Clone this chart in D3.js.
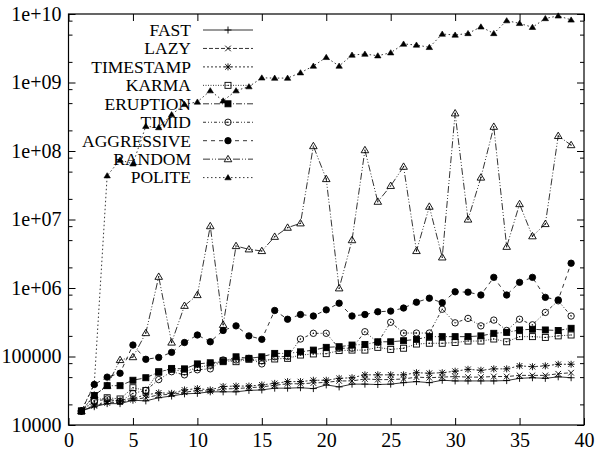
<!DOCTYPE html>
<html>
<head>
<meta charset="utf-8">
<script src="https://cdn.jsdelivr.net/npm/d3@7"></script>
<style>
  body { margin: 0; background: #fff; }
</style>
</head>
<body>
<div id="chart"></div>
<script>
const width = 595;
const height = 458;
const fontFamily = '"Liberation Serif", Tinos, "DejaVu Serif", "Times New Roman", Times, serif';

const seriesNames = ['FAST', 'LAZY', 'TIMESTAMP', 'KARMA', 'ERUPTION', 'TIMID', 'AGGRESSIVE', 'RANDOM', 'POLITE'];
const xValues = d3.range(1, 40);

const fast = [1.6e4, 1.85e4, 2.05e4, 2.05e4, 2.3e4, 2.25e4, 2.5e4, 2.65e4, 2.85e4, 2.9e4,
    3.05e4, 3.05e4, 3.05e4, 3.2e4, 3.25e4, 3.45e4, 3.45e4, 3.5e4, 3.4e4, 3.85e4,
    3.6e4, 3.95e4, 3.95e4, 3.9e4, 3.95e4, 4.15e4, 4.3e4, 4.15e4, 4.5e4, 4.4e4,
    4.4e4, 4.4e4, 4.4e4, 4.45e4, 4.8e4, 4.9e4, 4.8e4, 5.05e4, 4.9e4];
const lazy = [1.6e4, 1.9e4, 2.1e4, 2.15e4, 2.35e4, 2.5e4, 2.75e4, 2.8e4, 3.0e4, 3.2e4,
    3.1e4, 3.35e4, 3.4e4, 3.5e4, 3.6e4, 3.8e4, 4.0e4, 4.0e4, 4.1e4, 4.2e4,
    4.4e4, 4.4e4, 4.7e4, 4.6e4, 4.6e4, 4.7e4, 5.0e4, 4.9e4, 5.0e4, 5.1e4,
    5.0e4, 5.0e4, 5.1e4, 5.1e4, 5.3e4, 5.3e4, 5.3e4, 5.6e4, 5.8e4];
const timestamp = [1.6e4, 1.95e4, 2.2e4, 2.3e4, 2.45e4, 2.75e4, 2.95e4, 2.9e4, 3.25e4, 3.4e4,
    3.25e4, 3.65e4, 3.7e4, 3.7e4, 3.85e4, 4.05e4, 4.3e4, 4.3e4, 4.5e4, 4.5e4,
    4.8e4, 4.9e4, 5.4e4, 5.4e4, 5.4e4, 5.4e4, 5.8e4, 5.7e4, 5.8e4, 6.1e4,
    6.5e4, 6.3e4, 6.6e4, 6.6e4, 7.3e4, 7.1e4, 7.3e4, 7.7e4, 7.7e4];
const karma = [1.6e4, 2.3e4, 2.5e4, 2.4e4, 3.5e4, 3.2e4, 6.0e4, 6.5e4, 6.0e4, 6.9e4,
    7.5e4, 8.7e4, 8.4e4, 9.1e4, 8.7e4, 9.2e4, 9.4e4, 1.05e5, 1.09e5, 1.1e5,
    1.22e5, 1.24e5, 1.24e5, 1.36e5, 1.27e5, 1.32e5, 1.52e5, 1.56e5, 1.56e5, 1.6e5,
    1.68e5, 1.68e5, 1.8e5, 1.64e5, 1.95e5, 1.95e5, 1.9e5, 2.0e5, 2.06e5];
const eruption = [1.6e4, 2.7e4, 3.75e4, 3.75e4, 4.5e4, 4.9e4, 5.9e4, 6.7e4, 6.6e4, 7.8e4,
    8.1e4, 8.4e4, 9.9e4, 9.4e4, 9.9e4, 1.11e5, 1.11e5, 1.17e5, 1.24e5, 1.36e5,
    1.39e5, 1.47e5, 1.5e5, 1.64e5, 1.64e5, 1.7e5, 1.78e5, 1.95e5, 1.95e5, 1.95e5,
    1.95e5, 2.0e5, 2.18e5, 2.25e5, 2.44e5, 2.5e5, 2.44e5, 2.4e5, 2.58e5];
const timid = [1.6e4, 2.2e4, 2.4e4, 2.2e4, 2.9e4, 3.2e4, 4.6e4, 6.0e4, 5.4e4, 6.4e4,
    6.6e4, 8.9e4, 8.9e4, 9.4e4, 7.8e4, 9.9e4, 1.0e5, 1.8e5, 2.18e5, 2.18e5,
    1.32e5, 1.32e5, 2.3e5, 1.6e5, 3.16e5, 2.2e5, 2.2e5, 2.2e5, 4.9e5, 3.1e5,
    3.6e5, 2.8e5, 3.4e5, 2.4e5, 3.5e5, 2.9e5, 4.4e5, 6.5e5, 3.9e5];
const aggressive = [1.6e4, 3.9e4, 5.0e4, 5.7e4, 1.47e5, 9.1e4, 9.7e4, 1.15e5, 1.6e5, 2.06e5,
    1.64e5, 2.4e5, 2.8e5, 2.0e5, 1.78e5, 4.7e5, 3.5e5, 4.1e5, 3.9e5, 4.8e5,
    6.0e5, 3.9e5, 4.1e5, 4.5e5, 4.6e5, 5.1e5, 6.2e5, 7.1e5, 6.1e5, 8.8e5,
    8.7e5, 7.9e5, 1.43e6, 7.9e5, 1.21e6, 1.43e6, 7.3e5, 6.7e5, 2.3e6];
const random = [1.6e4, 2.7e4, 3.75e4, 8.9e4, 9.8e4, 2.2e5, 1.46e6, 1.6e5, 5.5e5, 7.9e5,
    8.0e6, 2.9e5, 4.1e6, 3.67e6, 3.47e6, 5.6e6, 7.6e6, 8.8e6, 1.18e8, 3.9e7,
    9.9e5, 5.0e6, 1.03e8, 1.82e7, 3.1e7, 5.9e7, 3.47e6, 1.54e7, 2.8e6, 3.55e8,
    1.0e7, 4.1e7, 2.26e8, 4.0e6, 1.68e7, 5.7e6, 8.6e6, 1.66e8, 1.22e8];
const polite = [1.6e4, 4.0e4, 4.36e7, 7.4e7, 6.5e7, 2.3e8, 2.2e8, 3.4e8, 4.8e8, 5.2e8,
    7.6e8, 5.4e8, 7.6e8, 8.7e8, 1.17e9, 1.16e9, 1.16e9, 1.39e9, 1.74e9, 2.33e9,
    1.74e9, 2.52e9, 2.6e9, 2.46e9, 2.72e9, 3.65e9, 3.53e9, 3.26e9, 5.1e9, 4.94e9,
    5.2e9, 6.5e9, 5.2e9, 8.0e9, 7.3e9, 6.4e9, 8.6e9, 9.4e9, 8.2e9];

const seriesValues = [fast, lazy, timestamp, karma, eruption, timid, aggressive, random, polite];
const markerTypes = ['plus', 'cross', 'star', 'square', 'squareFilled', 'circle', 'circleFilled', 'triangle', 'triangleFilled'];
const dashes = ['none', '4,2', '2,2', '1,1.5', '6,2,1,2', '3,2,1,2,1,2', '4,4', '7,2,1,2,1,2', '1.5,2.5'];

const xTicks = [0, 5, 10, 15, 20, 25, 30, 35, 40];
const yTicks = [1e4, 1e5, 1e6, 1e7, 1e8, 1e9, 1e10];
const yTickLabels = ['10000', '100000', '1e+06', '1e+07', '1e+08', '1e+09', '1e+10'];

const margin = {left: 68.5, right: 584, top: 14, bottom: 425};

const svg = d3.select('#chart').append('svg')
    .attr('width', width)
    .attr('height', height);

const x = d3.scaleLinear().domain([0, 40]).range([margin.left, margin.right]);
const y = d3.scaleLog().domain([1e4, 1e10]).range([margin.bottom, margin.top]);

// minor ticks at 2, 5, 8 of each decade
const minorY = [];
for (let e = 4; e < 10; e++) {
    [2, 5, 8].forEach(m => minorY.push(m * Math.pow(10, e)));
}

function styleAxis(g) {
    g.attr('font-family', fontFamily);
    g.select('.domain').remove();
    g.selectAll('line').attr('stroke', '#000').attr('stroke-width', 1);
    g.selectAll('text').attr('fill', '#000').style('font-size', '20px');
}

svg.append('g')
    .attr('transform', `translate(0,${margin.bottom})`)
    .call(d3.axisBottom(x).tickValues(xTicks).tickSize(-7).tickPadding(8))
    .call(styleAxis);

svg.append('g')
    .attr('transform', `translate(0,${margin.top})`)
    .call(d3.axisTop(x).tickValues(xTicks).tickSize(-7).tickFormat(''))
    .call(styleAxis);

svg.append('g')
    .attr('transform', `translate(${margin.left},0)`)
    .call(d3.axisLeft(y).tickValues(yTicks).tickSize(-7).tickPadding(7)
        .tickFormat((d, i) => yTickLabels[i]))
    .call(styleAxis);

svg.append('g')
    .attr('transform', `translate(${margin.left},0)`)
    .call(d3.axisLeft(y).tickValues(minorY).tickSize(-4).tickFormat(''))
    .call(styleAxis);

svg.append('g')
    .attr('transform', `translate(${margin.right},0)`)
    .call(d3.axisRight(y).tickValues(yTicks).tickSize(-7).tickFormat(''))
    .call(styleAxis);

svg.append('g')
    .attr('transform', `translate(${margin.right},0)`)
    .call(d3.axisRight(y).tickValues(minorY).tickSize(-4).tickFormat(''))
    .call(styleAxis);

svg.append('rect')
    .attr('x', margin.left)
    .attr('y', margin.top)
    .attr('width', margin.right - margin.left)
    .attr('height', margin.bottom - margin.top)
    .attr('fill', 'none')
    .attr('stroke', '#000')
    .attr('stroke-width', 1.2);

function drawMarker(g, type, cx, cy) {
    const s = 3.5;
    if (type === 'plus' || type === 'star') {
        g.append('path').attr('d', `M${cx - s},${cy}H${cx + s}M${cx},${cy - s}V${cy + s}`)
            .attr('stroke', '#000').attr('stroke-width', 0.9);
    }
    if (type === 'cross' || type === 'star') {
        const t = 2.8;
        g.append('path').attr('d', `M${cx - t},${cy - t}L${cx + t},${cy + t}M${cx - t},${cy + t}L${cx + t},${cy - t}`)
            .attr('stroke', '#000').attr('stroke-width', 0.9);
    }
    if (type === 'square' || type === 'squareFilled') {
        g.append('rect').attr('x', cx - 3).attr('y', cy - 3).attr('width', 6).attr('height', 6)
            .attr('fill', type === 'square' ? 'none' : '#000').attr('stroke', '#000').attr('stroke-width', 0.9);
    }
    if (type === 'circle' || type === 'circleFilled') {
        g.append('circle').attr('cx', cx).attr('cy', cy).attr('r', 3.2)
            .attr('fill', type === 'circle' ? 'none' : '#000').attr('stroke', '#000').attr('stroke-width', 0.9);
    }
    if (type === 'triangle') {
        g.append('path').attr('d', `M${cx},${cy - 3.8}L${cx + 3.8},${cy + 2.6}L${cx - 3.8},${cy + 2.6}Z`)
            .attr('fill', 'none').attr('stroke', '#000').attr('stroke-width', 0.9);
    }
    if (type === 'triangleFilled') {
        g.append('path').attr('d', `M${cx},${cy - 3}L${cx + 3.2},${cy + 2.2}L${cx - 3.2},${cy + 2.2}Z`)
            .attr('fill', '#000').attr('stroke', '#000').attr('stroke-width', 0.6);
    }
    if (type === 'square' || type === 'circle' || type === 'triangle') {
        g.append('circle').attr('cx', cx).attr('cy', cy).attr('r', 0.7).attr('fill', '#000');
    }
}

const line = d3.line()
    .x((d, i) => x(xValues[i]))
    .y(d => y(d));

const plot = svg.append('g');

seriesValues.forEach((vals, si) => {
    const g = plot.append('g');
    g.append('path')
        .datum(vals)
        .attr('fill', 'none')
        .attr('stroke', '#000')
        .attr('stroke-width', 0.8)
        .attr('stroke-dasharray', dashes[si])
        .attr('d', line);
    vals.forEach((v, i) => drawMarker(g, markerTypes[si], x(xValues[i]), y(v)));
});

// legend
const legend = svg.append('g').attr('font-family', fontFamily);
seriesNames.forEach((name, i) => {
    const ly = 30 + i * 18.45;
    legend.append('text')
        .attr('x', 191)
        .attr('y', ly + 5.8)
        .attr('text-anchor', 'end')
        .attr('fill', '#000')
        .style('font-size', '17.5px')
        .text(name);
    legend.append('line')
        .attr('x1', 203).attr('x2', 253)
        .attr('y1', ly).attr('y2', ly)
        .attr('stroke', '#000')
        .attr('stroke-width', 0.8)
        .attr('stroke-dasharray', dashes[i]);
    drawMarker(legend, markerTypes[i], 228, ly);
});
</script>
</body>
</html>
